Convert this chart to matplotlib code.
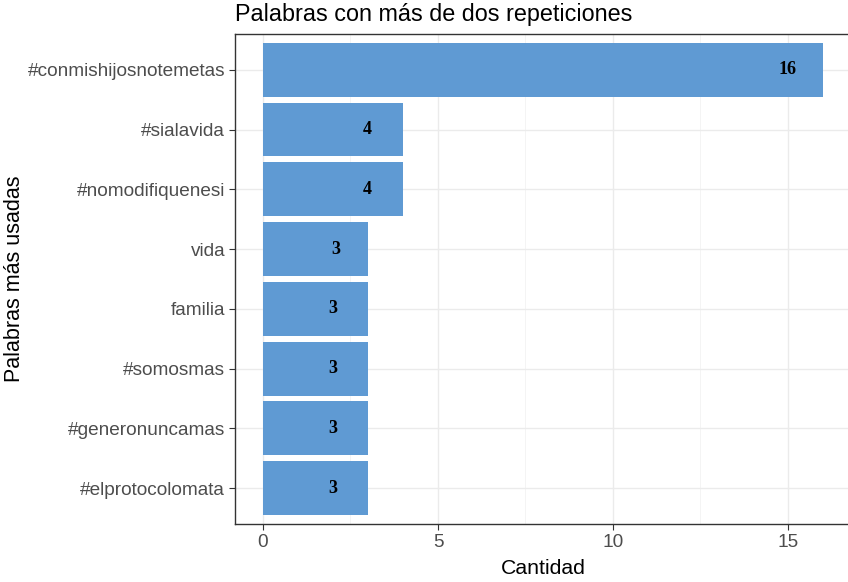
import numpy as np
import matplotlib.pyplot as plt

# datos
palabras = ['#conmishijosnotemetas', '#sialavida', '#nomodifiquenesi', 'vida',
            'familia', '#somosmas', '#generonuncamas', '#elprotocolomata']
cantidad = [16, 4, 4, 3, 3, 3, 3, 3]
# posicion x de las etiquetas (como en el original, un poco dentro de la barra)
pos_etiqueta = [15.0, 2.97, 2.97, 2.09, 2.0, 2.0, 2.0, 2.0]

plt.rcParams['font.family'] = ['Liberation Sans', 'DejaVu Sans']

fig = plt.figure(figsize=(8.48, 5.82), dpi=100)
ax = fig.add_axes([0.2771, 0.0997, 0.7264, 0.8419])

y = np.arange(len(palabras))[::-1] + 1
ax.barh(y, cantidad, height=0.9, color='#5f9ad3', zorder=2)
for yi, xi, v in zip(y, pos_etiqueta, cantidad):
    ax.text(xi, yi, str(v), ha='center', va='center', fontsize=13,
            fontweight='bold', family='Liberation Serif', color='black', zorder=3)

ax.set_xlim(-0.8, 16.8)
ax.set_ylim(0.4, 8.6)
ax.set_yticks(y)
ax.set_yticklabels(palabras)
ax.set_xticks([0, 5, 10, 15])
ax.set_xticks([2.5, 7.5, 12.5], minor=True)

ax.grid(True, which='major', color='#ebebeb', linewidth=1.0, zorder=0)
ax.grid(True, which='minor', axis='x', color='#f3f3f3', linewidth=0.6, zorder=0)
ax.set_axisbelow(True)
ax.tick_params(which='major', length=4, width=0.8, color='#333333',
               labelcolor='#4d4d4d', labelsize=13.7, pad=3)
ax.tick_params(which='minor', length=0)
for s in ax.spines.values():
    s.set_color('#333333')
    s.set_linewidth(1.0)

ax.set_xlabel('Cantidad', fontsize=15.3, color='black', labelpad=6)
ax.set_ylabel('Palabras más usadas', fontsize=15.5, color='black', labelpad=2)
ax.set_title('Palabras con más de dos repeticiones', fontsize=16.8, loc='left', pad=9)

fig.savefig('out.png', dpi=100)
